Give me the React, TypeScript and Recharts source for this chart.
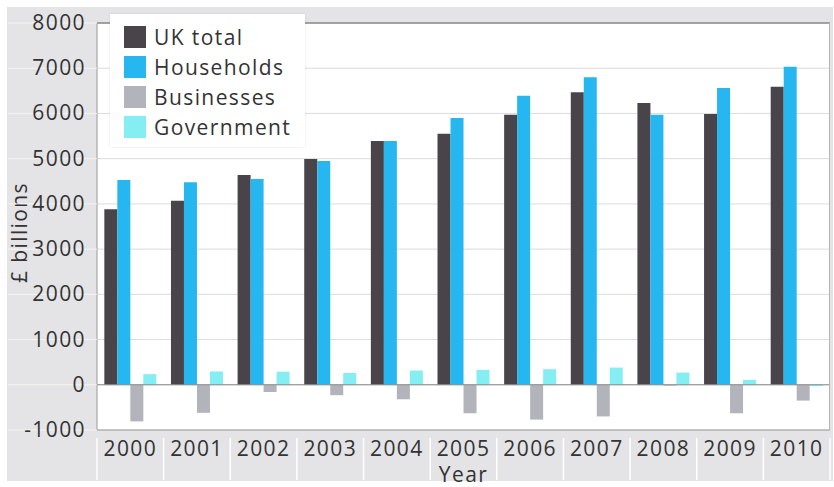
import React from 'react';
import { BarChart, Bar, XAxis, YAxis, CartesianGrid, ReferenceLine } from 'recharts';

// values, £ billions
const years = ['2000', '2001', '2002', '2003', '2004', '2005', '2006', '2007', '2008', '2009', '2010'];
const ukTotal = [3880, 4070, 4640, 4990, 5390, 5550, 5970, 6470, 6230, 5990, 6590];
const households = [4530, 4480, 4550, 4950, 5390, 5900, 6390, 6800, 5970, 6560, 7030];
const businesses = [-810, -620, -160, -230, -320, -630, -770, -700, -20, -630, -350];
const government = [235, 295, 290, 260, 315, 330, 345, 380, 270, 110, -30];
const yTicks = [-1000, 0, 1000, 2000, 3000, 4000, 5000, 6000, 7000, 8000];

const series = [
    { key: 'uk', name: 'UK total', color: '#48444a' },
    { key: 'households', name: 'Households', color: '#27b7f0' },
    { key: 'businesses', name: 'Businesses', color: '#b3b3bb' },
    { key: 'government', name: 'Government', color: '#84eef2' },
];

const data = years.map((year, i) => ({
    year,
    uk: ukTotal[i],
    households: households[i],
    businesses: businesses[i],
    government: government[i],
}));

const FONT = '"Open Sans", "Noto Sans", sans-serif';
const TEXT = '#333';
const SPACING = 1.4;
const PLOT_LEFT = 97;
const PLOT_RIGHT = 830;
const HALF_BAND = (PLOT_RIGHT - PLOT_LEFT) / years.length / 2;

function YearTick(props: any) {
    const { x, y, payload, index } = props;
    return (
        <g>
            {index === 0 && <line x1={x - HALF_BAND} x2={x - HALF_BAND} y1={y} y2={480} stroke="#fff" strokeWidth={1.5} />}
            <line x1={x + HALF_BAND} x2={x + HALF_BAND} y1={y} y2={480} stroke="#fff" strokeWidth={1.5} />
            <text x={x} y={y + 18} textAnchor="middle" fontSize={21} fill={TEXT} fontFamily={FONT} letterSpacing={SPACING}>
                {payload.value}
            </text>
        </g>
    );
}

function ValueTick(props: any) {
    const { x, y, payload } = props;
    return (
        <g>
            <line x1={8} x2={PLOT_LEFT} y1={y} y2={y} stroke="#f4f4f4" strokeWidth={1} />
            <text x={x - 3} y={y + 7} textAnchor="end" fontSize={21} fill={TEXT} fontFamily={FONT} letterSpacing={SPACING}>
                {payload.value}
            </text>
        </g>
    );
}

function LegendBox() {
    return (
        <div
            style={{
                position: 'absolute',
                left: 110,
                top: 14,
                width: 195,
                height: 133,
                background: '#fff',
                boxShadow: '0 0 2px rgba(0,0,0,0.12)',
                fontFamily: FONT,
                fontSize: 21,
                letterSpacing: SPACING,
                color: TEXT,
                boxSizing: 'border-box',
                paddingTop: 8,
                paddingLeft: 14,
            }}
        >
            {series.map(s => (
                <div key={s.key} style={{ display: 'flex', alignItems: 'center', height: 30 }}>
                    <div style={{ width: 22, height: 22, background: s.color, marginRight: 8 }} />
                    <span style={{ lineHeight: '30px' }}>{s.name}</span>
                </div>
            ))}
        </div>
    );
}

export default function App() {
    return (
        <div style={{ position: 'absolute', left: 0, top: 0, width: 834, height: 487, background: '#fff' }}>
            <div style={{ position: 'absolute', left: 7, top: 7, width: 826, height: 474, background: '#e4e4e6' }} />
            <div style={{ position: 'absolute', left: 0, top: 0 }}>
                <BarChart
                    width={834}
                    height={487}
                    data={data}
                    margin={{ top: 23, right: 4, left: 0, bottom: 7 }}
                    barGap={0}
                    barCategoryGap="11%"
                >
                    <CartesianGrid vertical={false} stroke="#dcdcdc" fill="#fff" />
                    <XAxis
                        dataKey="year"
                        height={50}
                        tickLine={false}
                        axisLine={{ stroke: '#9a9a9a' }}
                        tick={<YearTick />}
                        interval={0}
                        label={{
                            content: (p: any) => {
                                const vb = p.viewBox || {};
                                return (
                                    <text x={vb.x + vb.width / 2} y={482} textAnchor="middle" fontSize={21} fill={TEXT} fontFamily={FONT} letterSpacing={SPACING}>
                                        Year
                                    </text>
                                );
                            },
                        }}
                    />
                    <YAxis
                        width={PLOT_LEFT}
                        domain={[-1000, 8000]}
                        ticks={yTicks}
                        interval={0}
                        tickLine={false}
                        axisLine={{ stroke: '#9a9a9a' }}
                        tick={<ValueTick />}
                        label={{
                            content: (p: any) => {
                                const vb = p.viewBox || {};
                                const cy = vb.y + vb.height / 2 + 6;
                                return (
                                    <text x={27} y={cy} transform={`rotate(-90 27 ${cy})`} textAnchor="middle" fontSize={21} fill={TEXT} fontFamily={FONT} letterSpacing={SPACING}>
                                        £ billions
                                    </text>
                                );
                            },
                        }}
                    />
                    <ReferenceLine y={8000} stroke="#8a8a8a" strokeWidth={1.5} />
                    <ReferenceLine y={0} stroke="#8a8a8a" strokeWidth={1} />
                    {series.map(s => (
                        <Bar key={s.key} dataKey={s.key} name={s.name} fill={s.color} isAnimationActive={false} />
                    ))}
                </BarChart>
            </div>
            <div style={{ position: 'absolute', left: PLOT_RIGHT - 1, top: 23, width: 1, height: 407, background: '#b5b5b5' }} />
            <LegendBox />
        </div>
    );
}
